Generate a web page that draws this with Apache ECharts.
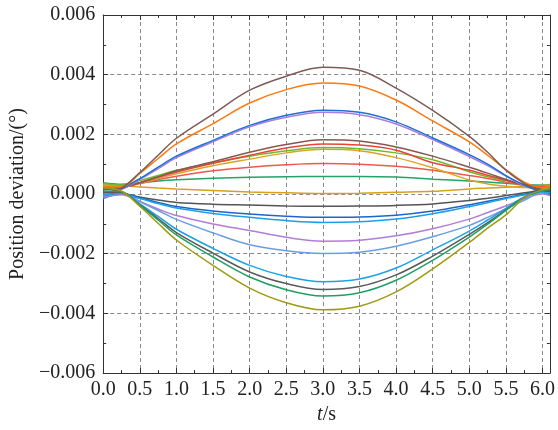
<!DOCTYPE html>
<html>
<head>
<meta charset="utf-8">
<script src="https://cdn.jsdelivr.net/npm/echarts@6/dist/echarts.min.js"></script>
<style>
html,body{margin:0;padding:0;background:#fff;}
#chart{width:558px;height:430px;}
</style>
</head>
<body>
<div id="chart"></div>
<script>
// time samples (s)
var times = [0, 0.25, 0.5, 0.75, 1.0, 1.5, 2.0, 2.5, 3.0, 3.5, 4.0, 4.5, 5.0, 5.25, 5.5, 5.75, 6.0, 6.1];

// position deviation in units of 1e-3 degree
var brownTop   = [0.05, 0.20, 0.72, 1.30, 1.87, 2.68, 3.48, 3.95, 4.25, 4.15, 3.55, 2.80, 1.93, 1.40, 0.80, 0.36, 0.10, 0.05];
var orange     = [0.25, 0.24, 0.69, 1.19, 1.68, 2.36, 3.05, 3.50, 3.72, 3.62, 3.15, 2.45, 1.75, 1.30, 0.82, 0.40, 0.22, 0.25];
var blueUp     = [0.00, 0.18, 0.52, 0.90, 1.27, 1.80, 2.30, 2.64, 2.81, 2.74, 2.42, 1.88, 1.32, 1.00, 0.62, 0.30, 0.05, 0.00];
var purpleUp   = [-0.05, 0.15, 0.49, 0.85, 1.22, 1.75, 2.25, 2.57, 2.74, 2.66, 2.35, 1.83, 1.26, 0.95, 0.60, 0.28, 0.10, 0.05];
var brownMid   = [0.15, 0.20, 0.38, 0.58, 0.78, 1.08, 1.40, 1.66, 1.82, 1.78, 1.58, 1.27, 0.90, 0.70, 0.49, 0.30, 0.15, 0.10];
var redMid     = [0.20, 0.22, 0.38, 0.56, 0.74, 1.03, 1.30, 1.54, 1.68, 1.64, 1.47, 1.05, 0.80, 0.63, 0.46, 0.30, 0.25, 0.22];
var lime       = [0.35, 0.30, 0.45, 0.62, 0.80, 1.05, 1.27, 1.45, 1.56, 1.52, 1.38, 1.15, 0.75, 0.58, 0.45, 0.34, 0.25, 0.30];
var goldMid    = [0.30, 0.24, 0.36, 0.52, 0.68, 0.95, 1.17, 1.38, 1.50, 1.45, 1.22, 0.88, 0.47, 0.34, 0.26, 0.22, 0.20, 0.20];
var redLow     = [0.25, 0.24, 0.35, 0.48, 0.60, 0.78, 0.90, 0.98, 1.02, 1.00, 0.93, 0.80, 0.62, 0.52, 0.40, 0.29, 0.18, 0.15];
var teal       = [0.38, 0.33, 0.38, 0.44, 0.48, 0.53, 0.56, 0.58, 0.59, 0.59, 0.57, 0.50, 0.44, 0.40, 0.36, 0.32, 0.30, 0.32];
var goldFlat   = [0.30, 0.28, 0.24, 0.20, 0.17, 0.12, 0.07, 0.04, 0.02, 0.03, 0.06, 0.09, 0.17, 0.20, 0.23, 0.26, 0.29, 0.30];
var grayFlat   = [0.05, 0.03, -0.10, -0.20, -0.28, -0.34, -0.37, -0.40, -0.41, -0.40, -0.38, -0.33, -0.22, -0.14, -0.05, 0.04, 0.12, 0.12];
var blueFlat   = [-0.10, 0.02, -0.12, -0.28, -0.42, -0.57, -0.67, -0.74, -0.78, -0.77, -0.71, -0.57, -0.36, -0.24, -0.12, -0.01, 0.10, 0.08];
var skyFlat    = [-0.15, -0.01, -0.15, -0.32, -0.47, -0.65, -0.78, -0.89, -0.95, -0.93, -0.84, -0.66, -0.42, -0.29, -0.15, -0.03, 0.05, 0.00];
var violetDown = [-0.10, -0.02, -0.25, -0.50, -0.72, -1.00, -1.22, -1.45, -1.58, -1.55, -1.40, -1.16, -0.84, -0.62, -0.40, -0.16, 0.00, -0.05];
var cornflower = [0.00, 0.04, -0.25, -0.55, -0.85, -1.30, -1.70, -1.90, -1.99, -1.95, -1.75, -1.43, -1.05, -0.78, -0.50, -0.21, 0.05, 0.02];
var cyanDown   = [-0.05, 0.05, -0.33, -0.75, -1.18, -1.82, -2.39, -2.76, -2.94, -2.85, -2.48, -1.87, -1.24, -0.87, -0.48, -0.10, 0.08, 0.02];
var grayDown   = [0.05, 0.06, -0.36, -0.82, -1.29, -1.98, -2.61, -3.00, -3.20, -3.10, -2.71, -2.08, -1.35, -0.96, -0.53, -0.12, 0.12, 0.10];
var greenDown  = [0.10, 0.08, -0.38, -0.87, -1.37, -2.11, -2.78, -3.21, -3.42, -3.31, -2.89, -2.22, -1.44, -1.01, -0.55, -0.11, 0.12, 0.15];
var oliveDown  = [0.20, 0.10, -0.41, -0.98, -1.54, -2.39, -3.15, -3.64, -3.88, -3.76, -3.28, -2.51, -1.62, -1.14, -0.70, -0.12, 0.15, 0.18];

var xTicks = ['0.0','0.5','1.0','1.5','2.0','2.5','3.0','3.5','4.0','4.5','5.0','5.5','6.0'];
var yTicks = ['−0.006','−0.004','−0.002','0.000','0.002','0.004','0.006'];

var seriesList = [
  {d: teal, c: '#25a366'},
  {d: goldFlat, c: '#d6a21c'},
  {d: redLow, c: '#ec5a4e'},
  {d: goldMid, c: '#dba324'},
  {d: lime, c: '#6dbb2c'},
  {d: redMid, c: '#e8443a'},
  {d: brownMid, c: '#85594f'},
  {d: purpleUp, c: '#a97fdc'},
  {d: blueUp, c: '#1f6fd8'},
  {d: orange, c: '#fb7a12'},
  {d: brownTop, c: '#7e5b55'},
  {d: grayFlat, c: '#555555'},
  {d: blueFlat, c: '#1f64c8'},
  {d: skyFlat, c: '#1d9fe6'},
  {d: violetDown, c: '#b37cd8'},
  {d: cornflower, c: '#6a9ee4'},
  {d: cyanDown, c: '#1aa3ea'},
  {d: grayDown, c: '#5a5a5a'},
  {d: greenDown, c: '#1f9f64'},
  {d: oliveDown, c: '#9d9b10'}
];

var font = '"Liberation Serif", "DejaVu Serif", serif';
var chart = echarts.init(document.getElementById('chart'), null, {renderer: 'canvas'});

var series = seriesList.map(function (s) {
  return {
    type: 'line',
    data: times.map(function (t, i) { return [t, s.d[i]]; }),
    showSymbol: false,
    smooth: 0.35,
    lineStyle: {color: s.c, width: 1.5},
    itemStyle: {color: s.c},
    xAxisIndex: 0, yAxisIndex: 0,
    animation: false
  };
});

function xLabel(v) {
  var k = Math.round(v / 0.5);
  if (Math.abs(v - k * 0.5) > 1e-6 || k < 0 || k >= xTicks.length) return '';
  return xTicks[k];
}
function yLabel(v) {
  var k = Math.round((v + 6) / 2);
  if (Math.abs(v - (k * 2 - 6)) > 1e-6 || k < 0 || k >= yTicks.length) return '';
  return yTicks[k];
}

var axisLineStyle = {color: '#333', width: 1};
var gridLine = {show: true, lineStyle: {color: '#8a8a8a', type: [4, 3], width: 1}};

chart.setOption({
  backgroundColor: '#ffffff',
  animation: false,
  grid: {left: 100, right: 6, top: 15, bottom: 51, containLabel: false},
  xAxis: [
    {
      type: 'value', min: 0, max: 6.1, interval: 0.5,
      position: 'bottom',
      name: '{i|t}/s', nameLocation: 'middle', nameGap: 29,
      nameTextStyle: {fontFamily: font, fontSize: 20, color: '#222',
        rich: {i: {fontFamily: font, fontSize: 20, fontStyle: 'italic', color: '#222'}}},
      axisLine: {show: true, onZero: false, lineStyle: axisLineStyle},
      axisTick: {show: true, inside: true, length: 5, lineStyle: axisLineStyle},
      minorTick: {show: true, splitNumber: 2, length: 3, lineStyle: axisLineStyle},
      axisLabel: {formatter: xLabel, fontFamily: font, fontSize: 20, color: '#222', margin: 7, showMaxLabel: false},
      splitLine: gridLine
    },
    {
      type: 'value', min: 0, max: 6.1, interval: 0.5,
      position: 'top',
      axisLine: {show: true, onZero: false, lineStyle: axisLineStyle},
      axisTick: {show: true, inside: true, length: 5, lineStyle: axisLineStyle},
      minorTick: {show: true, splitNumber: 2, length: 3, lineStyle: axisLineStyle},
      axisLabel: {show: false},
      splitLine: {show: false}
    }
  ],
  yAxis: [
    {
      type: 'value', min: -6, max: 6, interval: 2,
      position: 'left',
      name: 'Position deviation/(°)', nameLocation: 'middle', nameGap: 74,
      nameTextStyle: {fontFamily: font, fontSize: 20, color: '#222'},
      axisLine: {show: true, onZero: false, lineStyle: axisLineStyle},
      axisTick: {show: true, inside: true, length: 5, lineStyle: axisLineStyle},
      minorTick: {show: true, splitNumber: 2, length: 3, lineStyle: axisLineStyle},
      axisLabel: {formatter: yLabel, fontFamily: font, fontSize: 20, color: '#222', margin: 8},
      splitLine: gridLine
    },
    {
      type: 'value', min: -6, max: 6, interval: 2,
      position: 'right',
      axisLine: {show: true, onZero: false, lineStyle: axisLineStyle},
      axisTick: {show: true, inside: true, length: 5, lineStyle: axisLineStyle},
      minorTick: {show: true, splitNumber: 2, length: 3, lineStyle: axisLineStyle},
      axisLabel: {show: false},
      splitLine: {show: false}
    }
  ],
  series: series
});
</script>
</body>
</html>
